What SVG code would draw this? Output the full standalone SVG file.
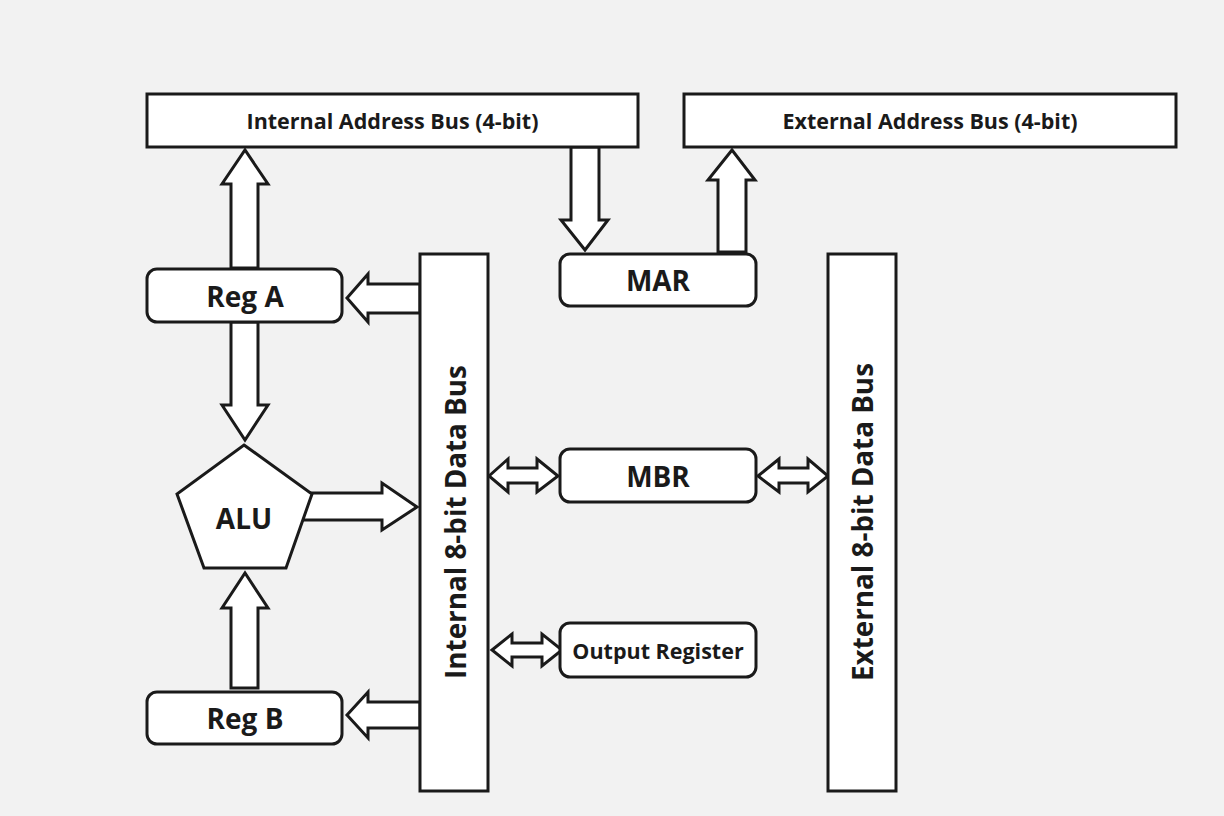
<svg xmlns="http://www.w3.org/2000/svg" width="1224" height="816" viewBox="0 0 1224 816">
<style>
.bg{fill:#f2f2f2}
.box{fill:#fff;stroke:#1a1a1a;stroke-width:3}
.arr{fill:#fff;stroke:#1a1a1a;stroke-width:3;stroke-linejoin:miter}
text{font-family:"Open Sans","Liberation Sans",sans-serif;font-weight:700;fill:#1a1a1a;text-anchor:middle;dominant-baseline:central}
.s18{font-size:21.5px}
.s26{font-size:28px}
.s20{font-size:21.5px}
.s24{font-size:27.8px}
</style>
<rect class="bg" x="0" y="0" width="1224" height="816"/>
<g id="connectors">
<polygon class="arr" points="231,268 231,184 222,184 245,150 268,184 258,184 258,268"/>
<polygon class="arr" points="231,322 258,322 258,405 268,405 245,440 222,405 231,405"/>
<polygon class="arr" points="231,688 231,608 222,608 245,573 268,608 258,608 258,688"/>
<polygon class="arr" points="571,147 599,147 599,220 608,220 585,250 561,220 571,220"/>
<polygon class="arr" points="718,252 718,180 708,180 732,150 755,180 746,180 746,252"/>
<polygon class="arr" points="420,284 368,284 368,274 347,298 368,322 368,313 420,313"/>
<polygon class="arr" points="420,702 368,702 368,692 347,715 368,738 368,728 420,728"/>
<polygon class="arr" points="290,493 382,493 382,483 417,507 382,530 382,520 290,520"/>
<polygon class="arr" points="489,476 508,459 508,468 537,468 537,459 558,476 537,492 537,483 508,483 508,492"/>
<polygon class="arr" points="758,476 779,459 779,468 808,468 808,459 828,476 808,492 808,483 779,483 779,492"/>
<polygon class="arr" points="492,650 512,634 512,643 542,643 542,634 562,650 542,666 542,657 512,657 512,666"/>
</g>
<g id="internal-address-bus">
<rect class="box" x="147" y="94" width="491" height="53"/>
<text class="s18" x="392.5" y="120">Internal Address Bus (4-bit)</text>
</g>
<g id="external-address-bus">
<rect class="box" x="684" y="94" width="492" height="53"/>
<text class="s18" x="930" y="120">External Address Bus (4-bit)</text>
</g>
<g id="reg-a">
<rect class="box" x="147" y="269" width="195" height="53" rx="10"/>
<text class="s26" x="245" y="296">Reg A</text>
</g>
<g id="alu">
<polygon class="box" points="244,445 312,494 286,568 204,568 177,494"/>
<text class="s26" x="244" y="518">ALU</text>
</g>
<g id="reg-b">
<rect class="box" x="147" y="692" width="195" height="52" rx="10"/>
<text class="s26" x="245" y="718">Reg B</text>
</g>
<g id="internal-data-bus">
<rect class="box" x="420" y="254" width="68" height="537"/>
<text class="s24" transform="translate(455 522) rotate(-90)">Internal 8-bit Data Bus</text>
</g>
<g id="mar">
<rect class="box" x="560" y="254" width="196" height="52" rx="10"/>
<text class="s26" x="658" y="280">MAR</text>
</g>
<g id="mbr">
<rect class="box" x="560" y="449" width="196" height="53" rx="10"/>
<text class="s26" x="658" y="476">MBR</text>
</g>
<g id="output-register">
<rect class="box" x="560" y="623" width="196" height="54" rx="10"/>
<text class="s20" x="658" y="650">Output Register</text>
</g>
<g id="external-data-bus">
<rect class="box" x="828" y="254" width="68" height="537"/>
<text class="s24" transform="translate(862 522) rotate(-90)">External 8-bit Data Bus</text>
</g>
</svg>
